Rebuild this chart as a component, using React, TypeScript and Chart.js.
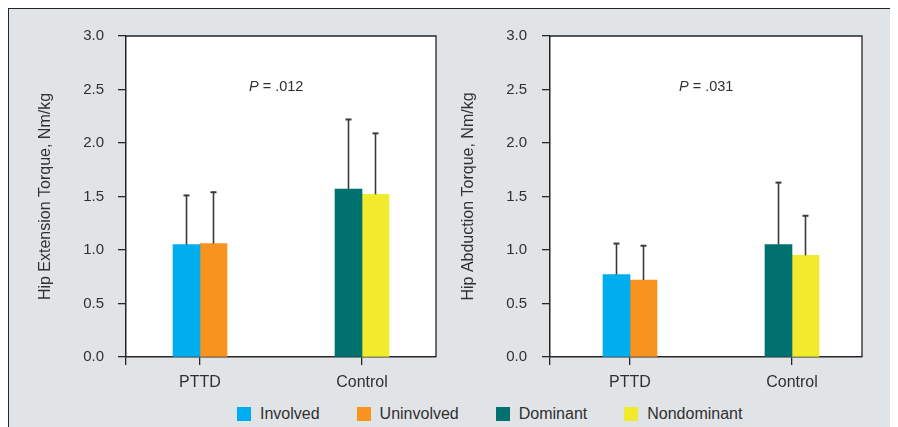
import React, { useEffect, useRef } from 'react';
import { Chart, registerables } from 'chart.js';

Chart.register(...registerables);

// ---------- data ----------
const categories = ['PTTD', 'Control'];
const seriesNames = ['Involved', 'Uninvolved', 'Dominant', 'Nondominant'];
const seriesColors = ['#00aeef', '#f7931e', '#00716f', '#f2eb2d'];
const seriesCategory = [0, 0, 1, 1];
const yTicks = [0, 0.5, 1, 1.5, 2, 2.5, 3];

const extensionTitle = 'Hip Extension Torque, Nm/kg';
const extensionMeans = [1.05, 1.06, 1.57, 1.52];
const extensionSD = [0.46, 0.48, 0.65, 0.57];
const extensionP = '.012';

const abductionTitle = 'Hip Abduction Torque, Nm/kg';
const abductionMeans = [0.77, 0.72, 1.05, 0.95];
const abductionSD = [0.29, 0.32, 0.58, 0.37];
const abductionP = '.031';

// ---------- style ----------
const FONT = "'Liberation Sans', Arial, sans-serif";
const TEXT = '#303030';
const AXIS = '#262626';
const BG = '#e1e4e7';

type PanelCfg = {
  title: string;
  means: number[];
  sds: number[];
  pText: string;
  xMin: number;
  xMax: number;
  yAxisWidth: number;
  titlePad: number;
  padRight: number;
  tickPad: number;
};

function buildChart(canvas: HTMLCanvasElement, cfg: PanelCfg) {
  const datasets = seriesNames.map((name, s) => ({
    label: name,
    data: categories.map((_, c) => ({ x: c, y: seriesCategory[s] === c ? cfg.means[s] : null })),
    backgroundColor: seriesColors[s],
    borderWidth: 0,
    barThickness: 27,
    grouped: true,
    skipNull: true,
    sd: cfg.sds[s],
  }));

  const framePlugin = {
    id: 'frame',
    beforeDraw(chart: any) {
      const { ctx, chartArea: a } = chart;
      ctx.save();
      ctx.fillStyle = '#ffffff';
      ctx.fillRect(a.left, a.top, a.right - a.left, a.bottom - a.top);
      ctx.restore();
    },
    afterDatasetsDraw(chart: any) {
      const { ctx } = chart;
      const y = chart.scales.y;
      chart.data.datasets.forEach((ds: any, i: number) => {
        const meta = chart.getDatasetMeta(i);
        meta.data.forEach((bar: any, j: number) => {
          const v = ds.data[j].y;
          if (v == null) return;
          const top = y.getPixelForValue(v + ds.sd);
          ctx.save();
          ctx.strokeStyle = '#3a3a3a';
          ctx.lineWidth = 1.6;
          ctx.beginPath();
          ctx.moveTo(bar.x, bar.y);
          ctx.lineTo(bar.x, top);
          ctx.stroke();
          ctx.lineWidth = 2;
          ctx.beginPath();
          ctx.moveTo(bar.x - 3, top);
          ctx.lineTo(bar.x + 3, top);
          ctx.stroke();
          ctx.restore();
        });
      });
    },
    afterDraw(chart: any) {
      const { ctx, chartArea: a } = chart;
      ctx.save();
      ctx.strokeStyle = AXIS;
      ctx.lineWidth = 1.3;
      ctx.beginPath();
      ctx.moveTo(a.left, a.top);
      ctx.lineTo(a.right, a.top);
      ctx.lineTo(a.right, a.bottom);
      ctx.stroke();
      // P label
      const px = chart.scales.x.getPixelForValue(0.47);
      const py = chart.scales.y.getPixelForValue(2.52);
      ctx.fillStyle = TEXT;
      ctx.textBaseline = 'middle';
      ctx.textAlign = 'left';
      ctx.font = `italic 14.5px ${FONT}`;
      const wP = ctx.measureText('P').width;
      ctx.font = `14.5px ${FONT}`;
      const rest = ' = ' + cfg.pText;
      const wR = ctx.measureText(rest).width;
      const x0 = px - (wP + wR) / 2;
      ctx.font = `italic 14.5px ${FONT}`;
      ctx.fillText('P', x0, py);
      ctx.font = `14.5px ${FONT}`;
      ctx.fillText(rest, x0 + wP, py);
      ctx.restore();
    },
  };

  const gridOpts = {
    display: true,
    drawOnChartArea: false,
    drawTicks: true,
    offset: false,
    tickLength: 8,
    color: AXIS,
    lineWidth: 1.3,
  };
  const borderOpts = { display: true, color: AXIS, width: 1.5 };

  return new Chart(canvas, {
    type: 'bar',
    data: { datasets } as any,
    plugins: [framePlugin],
    options: {
      animation: false,
      responsive: false,
      maintainAspectRatio: false,
      layout: { padding: { top: 27, right: cfg.padRight, bottom: 0, left: 0 } },
      plugins: { legend: { display: false }, tooltip: { enabled: false } },
      scales: {
        x: {
          type: 'linear',
          min: cfg.xMin,
          max: cfg.xMax,
          offset: false,
          afterBuildTicks: (s: any) => {
            s.ticks = [cfg.xMin, ...categories.map((_, i) => i)].map((v) => ({ value: v }));
          },
          afterFit: (s: any) => {
            s.height = 40;
          },
          grid: gridOpts,
          border: borderOpts,
          ticks: {
            autoSkip: false,
            maxRotation: 0,
            padding: 8,
            color: TEXT,
            font: { family: FONT, size: 16 },
            callback: (v: any) => categories[v] ?? '',
          },
        },
        y: {
          min: 0,
          max: 3,
          afterBuildTicks: (s: any) => {
            s.ticks = yTicks.map((v) => ({ value: v }));
          },
          afterFit: (s: any) => {
            s.width = cfg.yAxisWidth;
          },
          grid: gridOpts,
          border: borderOpts,
          ticks: {
            padding: cfg.tickPad,
            color: TEXT,
            font: { family: FONT, size: 15 },
            callback: (v: any) => Number(v).toFixed(1),
          },
          title: {
            display: true,
            text: cfg.title,
            color: TEXT,
            font: { family: FONT, size: 16 },
            padding: { top: cfg.titlePad, bottom: 0 },
          },
        },
      },
    } as any,
  });
}

export default function App() {
  const leftRef = useRef<HTMLCanvasElement>(null);
  const rightRef = useRef<HTMLCanvasElement>(null);

  useEffect(() => {
    document.documentElement.style.overflow = 'hidden';
    const c1 = buildChart(leftRef.current!, {
      title: extensionTitle,
      means: extensionMeans,
      sds: extensionSD,
      pText: extensionP,
      xMin: -74 / 162,
      xMax: 1 + 74 / 162,
      yAxisWidth: 117,
      titlePad: 27,
      padRight: 9,
      tickPad: 14,
    });
    const c2 = buildChart(rightRef.current!, {
      title: abductionTitle,
      means: abductionMeans,
      sds: abductionSD,
      pText: abductionP,
      xMin: -80 / 162,
      xMax: 1 + 70 / 162,
      yAxisWidth: 105,
      titlePad: 14,
      padRight: 28,
      tickPad: 15,
    });
    return () => {
      c1.destroy();
      c2.destroy();
    };
  }, []);

  return (
    <div
      style={{
        position: 'relative',
        width: 882,
        height: 430,
        background: BG,
        borderTop: `1.5px solid ${AXIS}`,
        borderLeft: `1.5px solid ${AXIS}`,
        borderRight: `1.5px solid ${AXIS}`,
        fontFamily: FONT,
      }}
    >
      <canvas
        ref={leftRef}
        width={436}
        height={388}
        style={{ position: 'absolute', left: 0, top: 0, width: 436, height: 388 }}
      />
      <canvas
        ref={rightRef}
        width={445}
        height={388}
        style={{ position: 'absolute', left: 436, top: 0, width: 445, height: 388 }}
      />
      <div
        style={{
          position: 'absolute',
          left: 228,
          top: 395,
          display: 'flex',
          alignItems: 'center',
          fontSize: 16,
          lineHeight: '19px',
          color: TEXT,
          whiteSpace: 'nowrap',
        }}
      >
        {seriesNames.map((n, i) => (
          <div key={n} style={{ display: 'flex', alignItems: 'center', marginRight: 37 }}>
            <span
              style={{ display: 'inline-block', width: 14, height: 14, background: seriesColors[i], marginRight: 9 }}
            />
            <span>{n}</span>
          </div>
        ))}
      </div>
    </div>
  );
}
